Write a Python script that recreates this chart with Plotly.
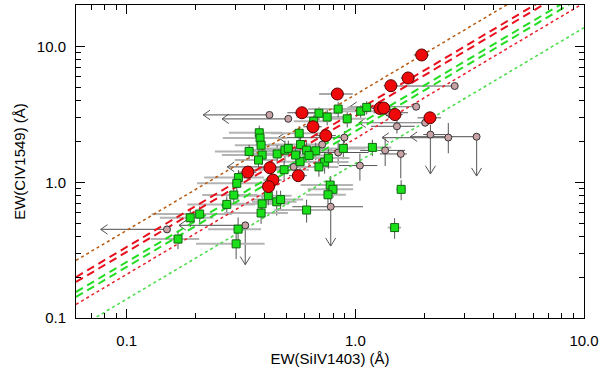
import numpy as np
import plotly.graph_objects as go

# --- data (EW in Angstrom) ---
red_x = [1.95, 1.70, 1.43, 0.834, 0.584, 1.28, 1.33, 1.49, 2.12, 0.653, 0.742, 0.339, 0.423, 0.436, 0.417, 0.563]
red_y = [8.69, 5.88, 5.16, 4.48, 3.26, 3.51, 3.53, 3.16, 2.99, 2.57, 2.21, 1.19, 1.28, 1.04, 0.93, 1.12]
red_xerr = [0.15, 0.12, 0.10, 0.14, 0.08, 0.10, 0.10, 0.12, 0.25, 0.06, 0.08, 0.03, 0.04, 0.04, 0.03, 0.05]
red_yerr = [0.40, 0.30, 0.25, 0.25, 0.15, 0.20, 0.20, 0.20, 0.15, 0.12, 0.12, 0.06, 0.06, 0.05, 0.05, 0.06]

green_x = [0.380, 0.383, 0.387, 0.343, 0.391, 0.377, 0.693, 0.753, 0.657, 0.841, 0.921, 1.055, 1.121,
           0.568, 0.576, 1.187, 0.886, 0.455, 0.492, 0.509, 0.612, 0.671, 0.627, 0.573, 0.734, 0.693,
           0.762, 0.488, 0.308, 0.303, 0.294, 0.274, 0.391, 0.453, 0.471, 0.416, 0.776, 0.798, 0.759,
           0.612, 1.485, 1.586, 0.387, 0.2085, 0.1895, 0.1676, 0.307, 0.301, 0.548]
green_y = [2.32, 2.12, 1.88, 1.69, 1.59, 1.46, 3.23, 3.03, 2.82, 3.47, 2.94, 3.35, 3.57,
           2.30, 1.90, 1.81, 1.78, 1.62, 1.73, 1.78, 1.73, 1.71, 1.58, 1.42, 1.41, 1.30,
           1.51, 1.24, 1.085, 0.983, 0.806, 0.688, 0.694, 0.719, 0.747, 0.797, 0.955, 0.888, 0.810,
           0.625, 0.464, 0.888, 0.594, 0.584, 0.548, 0.382, 0.452, 0.352, 1.59]
green_xerr = [0.10, 0.12, 0.09, 0.10, 0.13, 0.08, 0.15, 0.20, 0.12, 0.22, 0.18, 0.25, 0.20,
              0.14, 0.16, 0.25, 0.22, 0.12, 0.15, 0.13, 0.18, 0.14, 0.16, 0.12, 0.20, 0.15,
              0.18, 0.14, 0.09, 0.10, 0.08, 0.09, 0.12, 0.10, 0.12, 0.11, 0.20, 0.18, 0.15,
              0.17, 0.10, 0.08, 0.12, 0.08, 0.05, 0.04, 0.08, 0.10, 0.12]
green_yerr = [0.30, 0.25, 0.30, 0.20, 0.25, 0.20, 0.35, 0.40, 0.30, 0.45, 0.40, 0.35, 0.40,
              0.30, 0.30, 0.25, 0.30, 0.25, 0.30, 0.25, 0.30, 0.25, 0.25, 0.30, 0.25, 0.20,
              0.25, 0.20, 0.15, 0.15, 0.12, 0.10, 0.12, 0.15, 0.12, 0.12, 0.15, 0.12, 0.12,
              0.12, 0.08, 0.15, 0.10, 0.08, 0.08, 0.06, 0.10, 0.08, 0.25]

# upper limits (small pink circles)
lim_x = [0.421, 0.509, 2.72, 1.845, 1.40, 1.52, 2.02, 2.13, 2.55, 3.39, 0.895, 0.716, 0.841, 1.35,
         1.58, 1.047, 0.537, 0.330, 0.780, 0.150]
lim_y = [3.14, 2.94, 5.13, 3.61, 3.26, 2.59, 2.75, 2.25, 2.14, 2.17, 2.14, 1.90, 1.66, 1.72,
         1.62, 1.33, 1.30, 0.482, 0.661, 0.450]
lim_xlo = [0, 0, 1.25, 0, 0.20, 0.35, 0, 0.15, 0, 0, 0, 0, 0.20, 0.30, 0.30, 0.20, 0, 0, 0.25, 0]
lim_xhi = [0, 0, 0, 0, 0.30, 0.30, 0, 0.35, 0, 0, 0, 0, 0.30, 0.30, 0.10, 0.20, 0, 0, 0.30, 0]
lim_ylo = [0, 0, 0, 0, 0.30, 0.30, 0, 0, 0.50, 0, 0.20, 0.20, 0.30, 0.40, 0.55, 0.30, 0, 0, 0, 0]
lim_yhi = [0, 0, 0, 0, 0.30, 0.30, 0, 0.40, 0.60, 0, 0.25, 0.20, 0.30, 0.40, 0.10, 0.30, 0, 0, 0.45, 0]
lim_left = [1, 1, 0, 1, 0, 0, 1, 0, 1, 1, 1, 1, 0, 0, 0, 0, 1, 1, 0, 1]
lim_down = [0, 0, 0, 0, 0, 0, 0, 1, 0, 1, 0, 0, 0, 0, 0, 0, 0, 1, 1, 0]

# constant-ratio relations EW(CIV) = k * EW(SiIV)
fit_red_dash = [3.34, 3.07]
fit_green_dash = [2.59, 2.38]
fit_red_dot = [4.43, 2.10]
fit_green_dot = [1.38]

XMIN, XMAX = 0.06, 10.0
YMIN, YMAX = 0.1, 20.3

ARROW = 10 ** 0.29

fig = go.Figure()

# upper-limit arrows
sx, sy, hx, hy = [], [], [], []
for x, y, l, d in zip(lim_x, lim_y, lim_left, lim_down):
    if l:
        tip = x / ARROW
        sx += [x, tip, None]
        sy += [y, y, None]
        hx += [tip * 10 ** 0.03, tip, tip * 10 ** 0.03, None]
        hy += [y * 10 ** 0.035, y, y / 10 ** 0.035, None]
    if d:
        tip = y / ARROW
        sx += [x, x, None]
        sy += [y, tip, None]
        hx += [x / 10 ** 0.022, x, x * 10 ** 0.022, None]
        hy += [tip * 10 ** 0.06, tip, tip * 10 ** 0.06, None]
fig.add_trace(go.Scatter(x=sx, y=sy, mode='lines', line=dict(color='#707070', width=1.2), hoverinfo='skip'))
fig.add_trace(go.Scatter(x=hx, y=hy, mode='lines', line=dict(color='#555555', width=1), hoverinfo='skip'))

# error bars (drawn below the lines)
fig.add_trace(go.Scatter(
    x=lim_x, y=lim_y, mode='markers', marker=dict(size=1, opacity=0),
    error_x=dict(type='data', symmetric=False, array=lim_xhi, arrayminus=lim_xlo, color='#555555', thickness=1, width=0),
    error_y=dict(type='data', symmetric=False, array=lim_yhi, arrayminus=lim_ylo, color='#555555', thickness=1, width=0)))
fig.add_trace(go.Scatter(
    x=green_x, y=green_y, mode='markers', marker=dict(size=1, opacity=0),
    error_x=dict(type='data', array=green_xerr, color='#b4b4b4', thickness=2, width=0),
    error_y=dict(type='data', array=green_yerr, color='#555555', thickness=1, width=0)))
fig.add_trace(go.Scatter(
    x=red_x, y=red_y, mode='markers', marker=dict(size=1, opacity=0),
    error_x=dict(type='data', array=red_xerr, color='#555555', thickness=1, width=0),
    error_y=dict(type='data', array=red_yerr, color='#555555', thickness=1, width=0)))

# relations
xl = [XMIN, XMAX]
for k in fit_red_dot[:1]:
    fig.add_trace(go.Scatter(x=xl, y=[k * v for v in xl], mode='lines',
                             line=dict(color='#b85a10', width=1.5, dash='dot')))
for k in fit_red_dot[1:]:
    fig.add_trace(go.Scatter(x=xl, y=[k * v for v in xl], mode='lines',
                             line=dict(color='#e8202a', width=1.5, dash='dot')))
for k in fit_green_dot:
    fig.add_trace(go.Scatter(x=xl, y=[k * v for v in xl], mode='lines',
                             line=dict(color='#44dd44', width=1.5, dash='dot')))
for k in fit_red_dash:
    fig.add_trace(go.Scatter(x=xl, y=[k * v for v in xl], mode='lines',
                             line=dict(color='#e8101c', width=2, dash='8px,5px')))
for k in fit_green_dash:
    fig.add_trace(go.Scatter(x=xl, y=[k * v for v in xl], mode='lines',
                             line=dict(color='#22dd22', width=2, dash='8px,5px')))

# markers
fig.add_trace(go.Scatter(x=lim_x, y=lim_y, mode='markers',
                         marker=dict(symbol='circle', size=7, color='#c9a3a6', line=dict(color='#333333', width=1))))
fig.add_trace(go.Scatter(x=green_x, y=green_y, mode='markers',
                         marker=dict(symbol='square', size=8, color='#19e019', line=dict(color='#116611', width=1))))
fig.add_trace(go.Scatter(x=red_x, y=red_y, mode='markers',
                         marker=dict(symbol='circle', size=12, color='#ee0a0a', line=dict(color='#550000', width=1))))

minor_vals = [m * 10.0 ** e for e in (-2, -1, 0) for m in range(2, 10)]
axis_style = dict(
    type='log', showgrid=False, zeroline=False, showline=True, linecolor='black', linewidth=1,
    mirror='ticks', ticks='inside', ticklen=9, tickcolor='black', automargin=False,
    minor=dict(ticks='inside', ticklen=5, tickcolor='black', tickmode='array', tickvals=minor_vals),
    tickmode='array', tickvals=[0.1, 1, 10], ticktext=['0.1', '1.0', '10.0'],
    tickfont=dict(size=15, color='black'),
)
fig.update_xaxes(axis_style, range=[np.log10(XMIN), np.log10(XMAX)], ticklabelstandoff=9,
                 title=dict(text='EW(SiIV1403) (Å)', font=dict(size=15), standoff=5))
fig.update_yaxes(axis_style, range=[np.log10(YMIN), np.log10(YMAX)], ticklabelstandoff=6,
                 title=dict(text='EW(CIV1549) (Å)', font=dict(size=15), standoff=7))
fig.update_layout(
    width=600, height=377, showlegend=False,
    margin=dict(l=76, r=16, t=5, b=59),
    plot_bgcolor='white', paper_bgcolor='white',
    font=dict(family='Liberation Sans, Arial, sans-serif', color='black'),
)

fig.write_html("out.html", config={'displayModeBar': False},
               post_script="document.body.style.margin='0';")
